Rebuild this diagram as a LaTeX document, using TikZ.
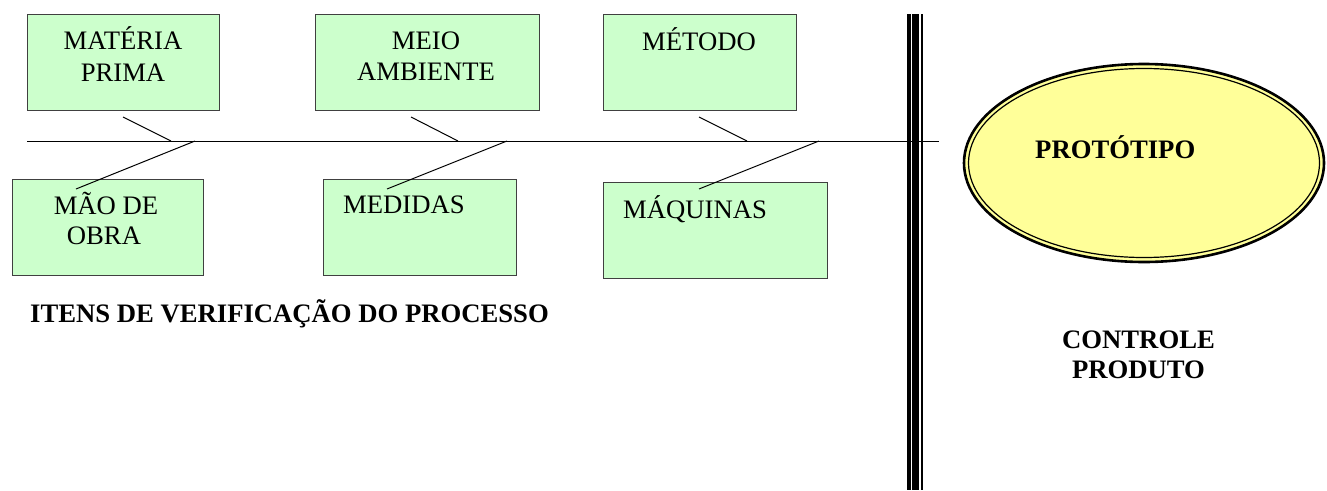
\documentclass[tikz,border=0pt]{standalone}
\usepackage{fontspec}
\setmainfont{Liberation Serif}
\definecolor{boxgreen}{RGB}{204,255,204}
\definecolor{protoyellow}{RGB}{255,255,153}
\begin{document}
\begin{tikzpicture}[x=1pt,y=-1pt,
  box/.style={draw=black!75, line width=1pt, fill=boxgreen, rectangle, inner sep=0pt},
  lbl/.style={font=\fontsize{26.67}{31}\selectfont, inner sep=0pt, anchor=base},
  lblw/.style={lbl, anchor=base west},
  blbl/.style={font=\fontsize{26.67}{31}\selectfont\bfseries, inner sep=0pt, anchor=base},
  bone/.style={draw=black, line width=1pt},
  rail/.style={draw=black}]
\useasboundingbox[fill=white] (0,0) rectangle (1327,490);

% boxes
\node[box, minimum width=192pt, minimum height=96pt] (mp) at (123,62) {};
\node[box, minimum width=224pt, minimum height=96pt] (ma) at (427,62) {};
\node[box, minimum width=193pt, minimum height=96pt] (me) at (699.5,62) {};
\node[box, minimum width=191pt, minimum height=96pt] (mo) at (107.5,227) {};
\node[box, minimum width=193pt, minimum height=96pt] (md) at (419.5,227) {};
\node[box, minimum width=224pt, minimum height=96pt] (mq) at (715,230) {};

% box texts
\node[lbl] (tmp1) at (123,49) {MATÉRIA};
\node[lbl] (tmp2) at (123,81) {PRIMA};
\node[lbl] (tma1) at (426,49) {MEIO};
\node[lbl] (tma2) at (426,80) {AMBIENTE};
\node[lbl] (tme) at (699,50) {MÉTODO};
\node[lbl] (tmo1) at (106,214) {MÃO DE};
\node[lbl] (tmo2) at (104,244) {OBRA};
\node[lblw] (tmd) at (343,213) {MEDIDAS};
\node[lblw] (tmq) at (623,218) {MÁQUINAS};

% triple vertical rail
\coordinate (ra1) at (909.2,14); \coordinate (rb1) at (909.2,490);
\coordinate (ra2) at (915.8,14); \coordinate (rb2) at (915.8,490);
\coordinate (ra3) at (922,14);   \coordinate (rb3) at (922,490);
\draw[rail, line width=3.6pt] (ra1) -- (rb1);
\draw[rail, line width=7pt] (ra2) -- (rb2);
\draw[rail, line width=2.6pt] (ra3) -- (rb3);

% spine
\coordinate (spL) at (27,141);
\coordinate (spR) at (939,141);
\draw[bone] (spL) -- (spR);

% top branches
\coordinate (t1a) at (123,117); \coordinate (t1b) at (171,141);
\coordinate (t2a) at (411,117); \coordinate (t2b) at (458,141);
\coordinate (t3a) at (699,117); \coordinate (t3b) at (747,141);
\draw[bone] (t1a) -- (t1b);
\draw[bone] (t2a) -- (t2b);
\draw[bone] (t3a) -- (t3b);

% bottom branches
\coordinate (b1a) at (195,141); \coordinate (b1b) at (76,189);
\coordinate (b2a) at (507,141); \coordinate (b2b) at (387,189);
\coordinate (b3a) at (819,141); \coordinate (b3b) at (699,189);
\draw[bone] (b1a) -- (b1b);
\draw[bone] (b2a) -- (b2b);
\draw[bone] (b3a) -- (b3b);

% prototype ellipse
\coordinate (pc) at (1144,163);
\fill[protoyellow] (pc) ellipse [x radius=180pt, y radius=99pt];
\draw[black, line width=2.6pt] (pc) ellipse [x radius=180pt, y radius=99pt];
\draw[black, line width=1.2pt] (pc) ellipse [x radius=175.5pt, y radius=94.5pt];
\node[blbl, anchor=base west] (tproto) at (1035,158) {PROTÓTIPO};

% captions
\node[blbl, anchor=base west] (titens) at (30,322) {ITENS DE VERIFICAÇÃO DO PROCESSO};
\node[blbl] (tctl1) at (1138.5,348) {CONTROLE};
\node[blbl] (tctl2) at (1138.5,378) {PRODUTO};
\end{tikzpicture}
\end{document}
